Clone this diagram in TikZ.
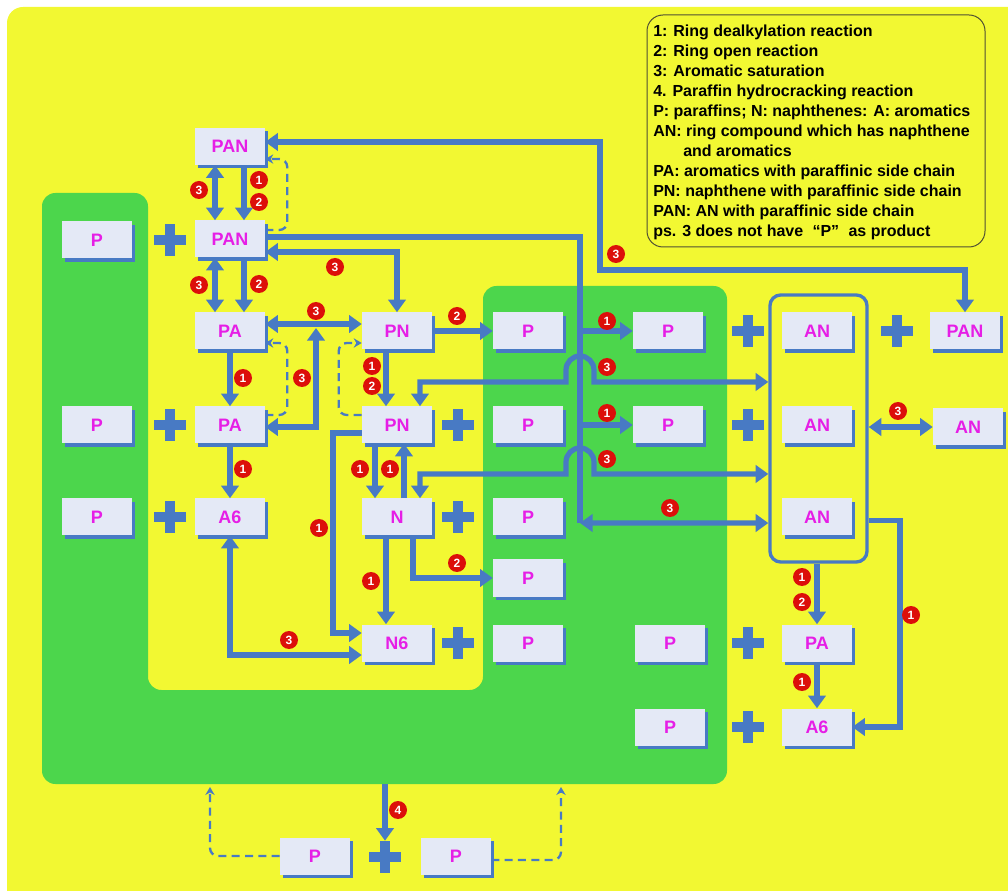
\documentclass[tikz,border=0pt]{standalone}
\usepackage{fontspec}
\setmainfont{Liberation Sans}
\usetikzlibrary{arrows.meta,positioning,shadows}
\definecolor{bgyellow}{RGB}{242,248,50}
\definecolor{zonegreen}{RGB}{76,214,76}
\definecolor{flowblue}{RGB}{72,122,196}
\definecolor{boxfill}{RGB}{228,233,246}
\definecolor{labelmag}{RGB}{230,30,230}
\definecolor{rxnred}{RGB}{220,15,10}
\definecolor{legendgray}{RGB}{80,80,50}

\begin{document}
\begin{tikzpicture}[
  x=0.75pt, y=-0.75pt,
  cmpd/.style={
    rectangle, fill=boxfill,
    minimum width=52.5pt, minimum height=27.75pt, inner sep=0pt,
    font=\fontsize{13.5}{13.5}\selectfont\bfseries,
    text=labelmag,
    general shadow={fill=flowblue, shadow xshift=2.5pt, shadow yshift=-2.5pt}
  },
  plusop/.style={
    rectangle, minimum size=24pt, inner sep=0pt,
    path picture={
      \fill[flowblue] ([xshift=-12pt,yshift=-3.75pt]path picture bounding box.center)
        rectangle ([xshift=12pt,yshift=3.75pt]path picture bounding box.center);
      \fill[flowblue] ([xshift=-3.75pt,yshift=-12pt]path picture bounding box.center)
        rectangle ([xshift=3.75pt,yshift=12pt]path picture bounding box.center);
    }
  },
  rxn/.style={
    circle, fill=rxnred, text=white,
    minimum size=13.5pt, inner sep=0pt,
    font=\fontsize{9}{9}\selectfont\bfseries
  },
  angroup/.style={
    rectangle, rounded corners=8pt, draw=flowblue, line width=2.5pt,
    minimum width=72.75pt, minimum height=200.25pt
  },
  legendtxt/.style={align=left, inner sep=0pt, font=\fontsize{12}{15}\selectfont\bfseries},
  flowline/.style={draw=flowblue, line width=3.9pt},
  flow/.style={flowline, -{Triangle[width=13pt,length=9.5pt]}},
  flowboth/.style={flowline, {Triangle[width=13pt,length=9.5pt]}-{Triangle[width=13pt,length=9.5pt]}},
  dashback/.style={draw=flowblue, line width=1.75pt, dash pattern=on 6pt off 4pt,
    rounded corners=6pt, -{Stealth[width=7pt,length=6pt]}}
]
\useasboundingbox (0,0) rectangle (1008,891);
\clip (0,0) rectangle (1008,891);

% backgrounds
\fill[bgyellow, rounded corners=12pt] (7,7) rectangle (1040,930);
\fill[zonegreen, rounded corners=10pt] (42,193) -- (148,193) -- (148,690) -- (483,690)
  -- (483,286) -- (727,286) -- (727,784) -- (42,784) -- cycle;
\draw[draw=legendgray, line width=0.75pt, rounded corners=12pt] (647,15) rectangle (985,247);
\node[legendtxt, anchor=north west] (legend) at (653,25)
  {1: Ring dealkylation reaction\\
   2: Ring open reaction\\
   3: Aromatic saturation\\
   4. Paraffin hydrocracking reaction\\
   P: paraffins; N: naphthenes: A: aromatics\\
   AN: ring compound which has naphthene\\
   \hspace*{22.5pt}and aromatics\\
   PA: aromatics with paraffinic side chain\\
   PN: naphthene with paraffinic side chain\\
   PAN: AN with paraffinic side chain\\
   ps. 3 does not have\hspace{7pt}“P”\hspace{7pt}as product};

% compounds
\node[cmpd] (panA) at (230,146.5) {PAN};
\node[cmpd] (panB) at (230,239)   {PAN};
\node[cmpd] (paA)  at (230,331)   {PA};
\node[cmpd] (paB)  at (230,425)   {PA};
\node[cmpd] (a6A)  at (230,517)   {A6};

\node[cmpd] (pL1) at (97,240) {P};
\node[cmpd] (pL2) at (97,425) {P};
\node[cmpd] (pL3) at (97,517) {P};
\node[plusop] (plusL1) at (170,240) {};
\node[plusop] (plusL2) at (170,425) {};
\node[plusop] (plusL3) at (170,517) {};

\node[cmpd] (pnA) at (397,331) {PN};
\node[cmpd] (pnB) at (397,425) {PN};
\node[cmpd] (nA)  at (397,517) {N};
\node[cmpd] (n6)  at (397,643) {N6};
\node[plusop] (plusM1) at (458,425) {};
\node[plusop] (plusM2) at (458,517) {};
\node[plusop] (plusM3) at (458,643) {};

\node[cmpd] (pM1) at (528,331) {P};
\node[cmpd] (pM2) at (528,425) {P};
\node[cmpd] (pM3) at (528,517) {P};
\node[cmpd] (pM4) at (528,578) {P};
\node[cmpd] (pM5) at (528,643) {P};

\node[cmpd] (pR1) at (668,331) {P};
\node[cmpd] (pR2) at (668,425) {P};
\node[cmpd] (pR3) at (670,643) {P};
\node[cmpd] (pR4) at (670,727) {P};
\node[plusop] (plusR1) at (748,331) {};
\node[plusop] (plusR2) at (748,425) {};
\node[plusop] (plusR3) at (748,643) {};
\node[plusop] (plusR4) at (748,727) {};

\node[angroup] (angrp) at (818.5,428.5) {};
\node[cmpd] (anA) at (817,331) {AN};
\node[cmpd] (anB) at (817,425) {AN};
\node[cmpd] (anC) at (817,517) {AN};
\node[cmpd] (paC) at (817,643) {PA};
\node[cmpd] (a6C) at (817,727) {A6};

\node[plusop] (plusE) at (897,331) {};
\node[cmpd] (panC) at (965,331) {PAN};
\node[cmpd] (anD)  at (968,427) {AN};

\node[cmpd] (pBotL) at (315,856) {P};
\node[plusop] (plusBot) at (385,857) {};
\node[cmpd] (pBotR) at (456,856) {P};

\coordinate (jpa) at (316,328);
\coordinate (tbot) at (580,523);
\coordinate (greenbot) at (385,784);
\coordinate (gbl) at (210,787);
\coordinate (gbr) at (561,787);

% left column
\draw[flowboth] ([xshift=-11.25pt]panA.south) -- ([xshift=-11.25pt]panB.north);
\draw[flow] ([xshift=10.5pt]panA.south) -- ([xshift=10.5pt]panB.north);
\draw[dashback] ([yshift=6.75pt]panB.east) -| ([xshift=16.5pt,yshift=-9.4pt]panA.east)
  -- ([yshift=-9.4pt]panA.east);
\draw[flowboth] ([xshift=-11.25pt]panB.south) -- ([xshift=-11.25pt]paA.north);
\draw[flow] ([xshift=10.5pt]panB.south) -- ([xshift=10.5pt]paA.north);
\draw[flow] (paA.south) -- (paB.north);
\draw[flow] (paB.south) -- (a6A.north);
\draw[flowboth] ([yshift=5.25pt]paA.east) -- ([yshift=5.25pt]pnA.west);
\draw[flowboth] ([yshift=-1.5pt]paB.east) -| (jpa);
\draw[dashback] ([yshift=7.5pt]paB.east) -| ([xshift=16.5pt,yshift=-9pt]paA.east)
  -- ([yshift=-9pt]paA.east);
\draw[flowboth] (a6A.south) |- ([yshift=-9pt]n6.west);

% middle column
\draw[flowboth] ([yshift=-9.75pt]panB.east) -| (pnA.north);
\draw[flow] ([xshift=-8.25pt]pnA.south) -- ([xshift=-8.25pt]pnB.north);
\draw[dashback] ([yshift=7.5pt]pnB.west) -| ([xshift=-17.25pt,yshift=-9pt]pnA.west)
  -- ([yshift=-9pt]pnA.west);
\draw[flow] (pnA.east) -- (pM1.west);
\draw[flow] ([xshift=-16.5pt]pnB.south) -- ([xshift=-16.5pt]nA.north);
\draw[flow] ([xshift=5.25pt]nA.north) -- ([xshift=5.25pt]pnB.south);
\draw[flow] ([yshift=-6pt]pnB.west) -| (333,600) |- ([yshift=7.5pt]n6.west);
\draw[flow] ([xshift=-8.25pt]nA.south) -- ([xshift=-8.25pt]n6.north);
\draw[flow] ([xshift=12pt]nA.south) |- (pM4.west);

% trunk and branches
\draw[flowline] ([yshift=1.5pt]panB.east) -| (tbot);
\draw[flow] (tbot |- pR1.west) -- (pR1.west);
\draw[flow] (tbot |- pR2.west) -- (pR2.west);
\draw[flowboth] (tbot) -- ([yshift=-70.9pt]angrp.west);
\draw[flowboth] ([xshift=17.25pt]pnB.north) |- (566,382) -- (566,370)
  arc[start angle=180, end angle=360, radius=14] -- (594,382) -- ([yshift=34.9pt]angrp.west);
\draw[flowboth] ([xshift=17.25pt]nA.north) |- (566,474) -- (566,462)
  arc[start angle=180, end angle=360, radius=14] -- (594,474) -- ([yshift=-34.1pt]angrp.west);
\draw[flowboth] ([yshift=3.4pt]panA.east) -| (600,270) -| (panC.north);

% right side
\draw[flowboth] (angrp.east |- anD.west) -- (anD.west);
\draw[flow] (angrp.south -| paC.north) -- (paC.north);
\draw[flow] (paC.south) -- (a6C.north);
\draw[flow] ([yshift=-69pt]angrp.east) -| (900,700) |- (a6C.east);

% bottom
\draw[flow] (greenbot) -- (plusBot.north);
\draw[dashback] (pBotL.west) -| (gbl);
\draw[dashback] ([yshift=-3pt]pBotR.east) -| (gbr);

% reaction numbers
\node[rxn] (rx1)  at (199,190) {3};
\node[rxn] (rx2)  at (259,180) {1};
\node[rxn] (rx3)  at (259,202) {2};
\node[rxn] (rx4)  at (199,285) {3};
\node[rxn] (rx5)  at (259,284) {2};
\node[rxn] (rx6)  at (335,267) {3};
\node[rxn] (rx7)  at (316,311) {3};
\node[rxn] (rx8)  at (243,378) {1};
\node[rxn] (rx9)  at (302,378) {3};
\node[rxn] (rx10) at (243,469) {1};
\node[rxn] (rx11) at (372,366) {1};
\node[rxn] (rx12) at (372,386) {2};
\node[rxn] (rx13) at (457,316) {2};
\node[rxn] (rx14) at (607,321) {1};
\node[rxn] (rx15) at (607,367) {3};
\node[rxn] (rx16) at (607,413) {1};
\node[rxn] (rx17) at (607,459) {3};
\node[rxn] (rx18) at (670,508) {3};
\node[rxn] (rx19) at (616,254) {3};
\node[rxn] (rx20) at (360,469) {1};
\node[rxn] (rx21) at (390,469) {1};
\node[rxn] (rx22) at (319,528) {1};
\node[rxn] (rx23) at (371,581) {1};
\node[rxn] (rx24) at (457,563) {2};
\node[rxn] (rx25) at (289,640) {3};
\node[rxn] (rx26) at (802,577) {1};
\node[rxn] (rx27) at (802,602) {2};
\node[rxn] (rx28) at (802,682) {1};
\node[rxn] (rx29) at (911,615) {1};
\node[rxn] (rx30) at (898,411) {3};
\node[rxn] (rx31) at (398,810) {4};
\end{tikzpicture}
\end{document}
